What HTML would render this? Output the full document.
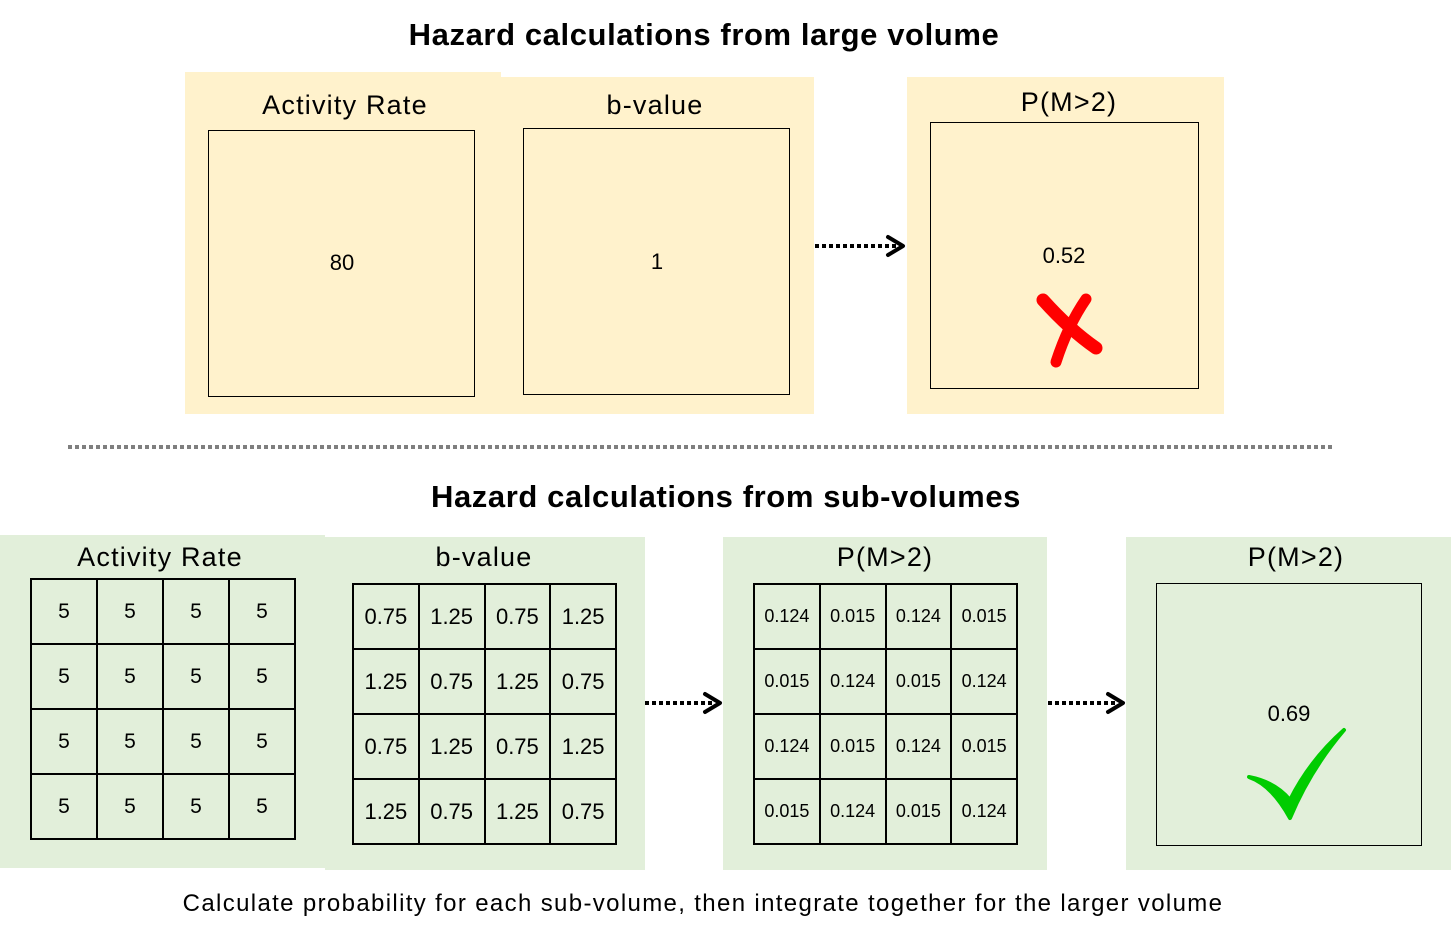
<!DOCTYPE html>
<html><head><meta charset="utf-8"><style>
*{margin:0;padding:0;box-sizing:border-box}
body{width:1451px;height:940px;background:#fff;position:relative;overflow:hidden;font-family:"Liberation Sans",sans-serif;color:#000}
.a{position:absolute}
.y{background:#fff2cc}
.g{background:#e2efda}
.box{position:absolute;border:1.5px solid #000}
.lbl{position:absolute;text-align:center;font-size:27px;line-height:30px;letter-spacing:1.2px}
.title{position:absolute;font-weight:bold;font-size:31px;text-align:center;width:1000px;line-height:36px;letter-spacing:0.6px}
.grid{position:absolute;display:grid;grid-template-columns:repeat(4,1fr);grid-template-rows:repeat(4,1fr);border:1px solid #000}
.grid div{border:1px solid #000;display:flex;align-items:center;justify-content:center}
.num{position:absolute;font-size:22px;text-align:center}
</style></head><body>
<div class="title" style="left:204px;top:17px">Hazard calculations from large volume</div>
<div class="a y" style="left:185px;top:72px;width:316px;height:342px"></div>
<div class="a y" style="left:501px;top:77px;width:313px;height:337px"></div>
<div class="a y" style="left:907px;top:77px;width:317px;height:337px"></div>
<div class="lbl" style="left:185px;top:90px;width:320px">Activity Rate</div>
<div class="lbl" style="left:501px;top:90px;width:308px">b-value</div>
<div class="lbl" style="left:907px;top:87px;width:324px">P(M&gt;2)</div>
<div class="box" style="left:208px;top:130px;width:267px;height:267px"></div>
<div class="box" style="left:523px;top:128px;width:267px;height:267px"></div>
<div class="box" style="left:930px;top:122px;width:269px;height:267px"></div>
<div class="num" style="left:302px;top:250px;width:80px">80</div>
<div class="num" style="left:617px;top:249px;width:80px">1</div>
<div class="num" style="left:1024px;top:243px;width:80px">0.52</div>
<div class="title" style="left:226px;top:479px">Hazard calculations from sub-volumes</div>
<div class="a g" style="left:0;top:535px;width:325px;height:333px"></div>
<div class="a g" style="left:325px;top:537px;width:320px;height:333px"></div>
<div class="a g" style="left:723px;top:537px;width:324px;height:333px"></div>
<div class="a g" style="left:1126px;top:537px;width:325px;height:333px"></div>
<div class="lbl" style="left:0;top:542px;width:320px">Activity Rate</div>
<div class="lbl" style="left:325px;top:542px;width:318px">b-value</div>
<div class="lbl" style="left:723px;top:542px;width:324px">P(M&gt;2)</div>
<div class="lbl" style="left:1126px;top:542px;width:340px">P(M&gt;2)</div>
<div class="grid" style="left:30px;top:578px;width:266px;height:262px;font-size:21px">
<div>5</div><div>5</div><div>5</div><div>5</div><div>5</div><div>5</div><div>5</div><div>5</div><div>5</div><div>5</div><div>5</div><div>5</div><div>5</div><div>5</div><div>5</div><div>5</div></div>
<div class="grid" style="left:352px;top:583px;width:265px;height:262px;font-size:22px">
<div>0.75</div><div>1.25</div><div>0.75</div><div>1.25</div><div>1.25</div><div>0.75</div><div>1.25</div><div>0.75</div><div>0.75</div><div>1.25</div><div>0.75</div><div>1.25</div><div>1.25</div><div>0.75</div><div>1.25</div><div>0.75</div></div>
<div class="grid" style="left:753px;top:583px;width:265px;height:262px;font-size:18px">
<div>0.124</div><div>0.015</div><div>0.124</div><div>0.015</div><div>0.015</div><div>0.124</div><div>0.015</div><div>0.124</div><div>0.124</div><div>0.015</div><div>0.124</div><div>0.015</div><div>0.015</div><div>0.124</div><div>0.015</div><div>0.124</div></div>
<div class="box" style="left:1156px;top:583px;width:266px;height:263px"></div>
<div class="num" style="left:1249px;top:701px;width:80px">0.69</div>
<div class="a" style="left:0;top:890px;width:1406px;text-align:center;font-size:24px;letter-spacing:1.35px">Calculate probability for each sub-volume, then integrate together for the larger volume</div>
<svg class="a" style="left:0;top:0" width="1451" height="940">
<g stroke="#000" stroke-width="4" fill="none">
<line x1="815" y1="246" x2="898" y2="246" stroke-dasharray="4,3"/>
<polyline points="888,237 903,246 888,255" stroke-linecap="round" stroke-linejoin="round"/>
<line x1="645" y1="703" x2="715" y2="703" stroke-dasharray="4,3"/>
<polyline points="705,694 720,703 705,712" stroke-linecap="round" stroke-linejoin="round"/>
<line x1="1048" y1="703" x2="1118" y2="703" stroke-dasharray="4,3"/>
<polyline points="1108,694 1123,703 1108,712" stroke-linecap="round" stroke-linejoin="round"/>
</g>
<line x1="68" y1="447" x2="1334" y2="447" stroke="#7f7f7f" stroke-width="4" stroke-dasharray="4,3"/>
<g stroke="#f00" stroke-linecap="round" fill="none">
<path d="M1043,300 Q1070,330 1096,348" stroke-width="13"/>
<path d="M1086,299 Q1068,325 1056,362" stroke-width="11"/>
</g>
<path d="M1249,777 Q1272,785 1290,818 Q1310,770 1344,730 Q1310,760 1290,800 Q1275,782 1249,777Z" fill="#00cc00" stroke="#00cc00" stroke-width="4" stroke-linejoin="round"/>
</svg>
</body></html>
